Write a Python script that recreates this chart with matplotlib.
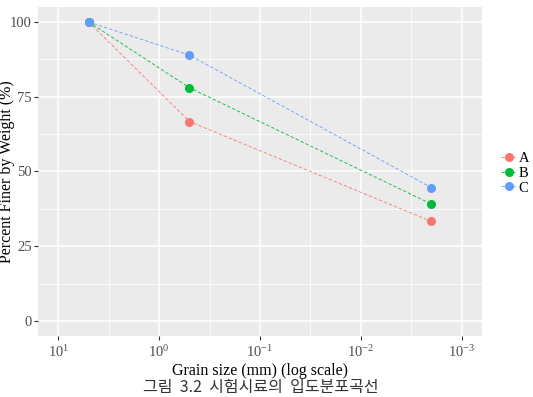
import matplotlib
matplotlib.use("Agg")
import matplotlib.pyplot as plt
import numpy as np
from matplotlib.ticker import FixedLocator, FuncFormatter
from matplotlib.lines import Line2D

plt.rcParams['font.family'] = ['Liberation Serif', 'DejaVu Serif']
plt.rcParams['mathtext.fontset'] = 'custom'
plt.rcParams['mathtext.rm'] = 'Liberation Serif'
plt.rcParams['mathtext.it'] = 'Liberation Serif:italic'

grain_size = [5, 0.5, 0.002]
series_names = ['A', 'B', 'C']
series_values = {
    'A': [100, 66.7, 33.3],
    'B': [100, 78.0, 39.1],
    'C': [100, 88.9, 44.6],
}
colors = {'A': '#F8766D', 'B': '#00BA38', 'C': '#619CFF'}
x_ticks = [10, 1, 0.1, 0.01, 0.001]
x_tick_labels = ['10$^{1}$', '10$^{0}$', '10$^{-1}$', '10$^{-2}$', '10$^{-3}$']
y_ticks = [0, 25, 50, 75, 100]

W, H = 533, 397
fig = plt.figure(figsize=(W / 100, H / 100), dpi=100)
ax = fig.add_axes([38 / W, 1 - 336 / H, (482 - 38) / W, (336 - 7) / H])
ax.set_facecolor('#EBEBEB')

ax.set_xscale('log')
ax.set_xlim(10 ** 1.2, 10 ** -3.2)
ax.set_ylim(-5, 105)

ax.xaxis.set_major_locator(FixedLocator(x_ticks))
ax.xaxis.set_minor_locator(FixedLocator([10 ** 0.5, 10 ** -0.5, 10 ** -1.5, 10 ** -2.5]))
ax.xaxis.set_major_formatter(FuncFormatter(lambda v, p: x_tick_labels[x_ticks.index(min(x_ticks, key=lambda t: abs(np.log10(t) - np.log10(v))))]))
ax.xaxis.set_minor_formatter(FuncFormatter(lambda v, p: ''))
ax.yaxis.set_major_locator(FixedLocator(y_ticks))
ax.yaxis.set_minor_locator(FixedLocator([12.5, 37.5, 62.5, 87.5]))

ax.grid(which='major', color='white', linewidth=1.1)
ax.grid(which='minor', color='white', linewidth=0.55)
ax.set_axisbelow(True)
for s in ax.spines.values():
    s.set_visible(False)
ax.tick_params(which='major', length=3, color='#333333', labelcolor='#4D4D4D', labelsize=10.5, pad=3)
ax.tick_params(axis='y', pad=1.5)
ax.tick_params(which='minor', length=0)

for name in series_names:
    ax.plot(grain_size, series_values[name], linestyle=(0, (4, 2.5)), linewidth=0.6,
            color=colors[name], marker='o', markersize=6.5, markeredgewidth=0, zorder=3)

ax.set_xlabel('Grain size (mm) (log scale)', fontsize=11.5, color='black', labelpad=2)
ax.set_ylabel('Percent Finer by Weight (%)', fontsize=11.5, color='black')
ax.yaxis.set_label_coords((15 - 38) / 444, 0.5)

handles = [Line2D([0], [0], color=colors[n], linestyle=(0, (4, 2.5)), linewidth=0.6,
                  marker='o', markersize=6.5, markeredgewidth=0) for n in series_names]
leg = fig.legend(handles, series_names, loc='center left', bbox_to_anchor=(494 / W, 1 - 173 / H),
                 frameon=False, fontsize=10.5, handlelength=1.1, handletextpad=0.1,
                 labelspacing=0.12, borderpad=0)

fig.text(0.49, 0.002, '그림  3.2  시험시료의  입도분포곡선', ha='center', va='bottom',
         fontsize=11.5, color='#333333', family=['Noto Sans CJK KR', 'DejaVu Sans'])

fig.savefig('out.png', dpi=100, facecolor='white')
